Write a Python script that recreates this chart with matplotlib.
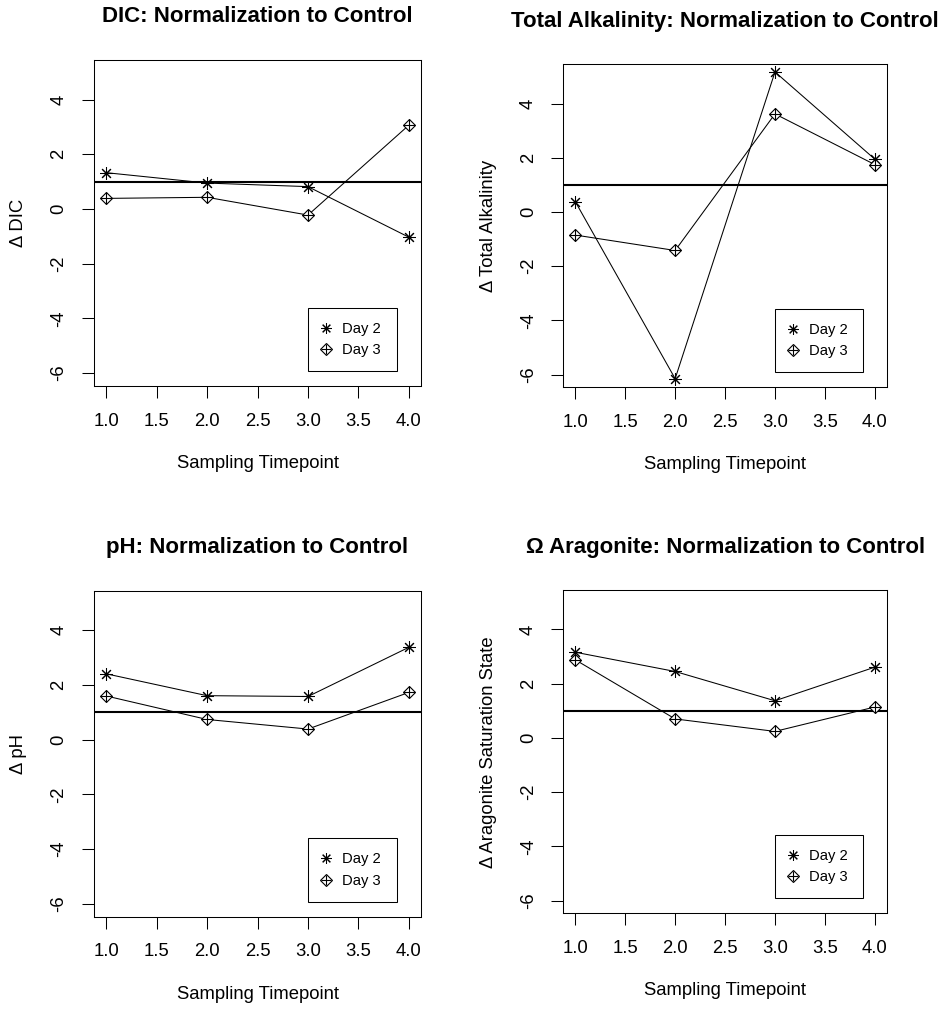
import matplotlib.pyplot as plt
from matplotlib.legend_handler import HandlerTuple

plt.rcParams['font.family'] = ['Liberation Sans', 'DejaVu Sans']

timepoints = [1, 2, 3, 4]

dic_day2 = [1.33, 0.95, 0.82, -1.03]
dic_day3 = [0.39, 0.43, -0.22, 3.07]

ta_day2 = [0.38, -6.15, 5.17, 1.95]
ta_day3 = [-0.85, -1.42, 3.62, 1.75]

ph_day2 = [2.41, 1.61, 1.58, 3.38]
ph_day3 = [1.60, 0.74, 0.39, 1.73]

arag_day2 = [3.16, 2.45, 1.37, 2.61]
arag_day3 = [2.88, 0.70, 0.24, 1.14]

titles = ['DIC: Normalization to Control',
          'Total Alkalinity: Normalization to Control',
          'pH: Normalization to Control',
          '\u03a9 Aragonite: Normalization to Control']
ylabels = ['\u0394 DIC', '\u0394 Total Alkalinity', '\u0394 pH',
           '\u0394 Aragonite Saturation State']
series = [(dic_day2, dic_day3), (ta_day2, ta_day3),
          (ph_day2, ph_day3), (arag_day2, arag_day3)]

xticks = [1.0, 1.5, 2.0, 2.5, 3.0, 3.5, 4.0]
yticks = [-6, -4, -2, 0, 2, 4]
control = 1

# axes rectangles in figure fractions (left, bottom, width, height)
rects = [(0.0997, 0.6178, 0.3468, 0.3228),
         (0.5974, 0.6165, 0.3430, 0.3198),
         (0.0997, 0.0924, 0.3468, 0.3228),
         (0.5974, 0.0957, 0.3430, 0.3200)]

fig = plt.figure(figsize=(9.43, 10.1), dpi=100)

for rect, title, ylab, (d2, d3) in zip(rects, titles, ylabels, series):
    ax = fig.add_axes(rect)
    ax.axhline(control, color='black', lw=1.5, zorder=1)

    ast = (8, 2, 0)
    l2, = ax.plot(timepoints, d2, color='black', lw=0.75, marker=ast,
                  ms=9, mew=0.75, zorder=3)
    ax.plot(timepoints, d3, color='black', lw=0.75, zorder=2)
    dia, = ax.plot(timepoints, d3, ls='none', marker='D', ms=6.6,
                   mfc='white', mec='black', mew=0.8, zorder=3)
    plus, = ax.plot(timepoints, d3, ls='none', marker='+', ms=9.2,
                    mec='black', mew=0.8, zorder=4)

    ax.set_xlim(0.88, 4.12)
    ax.set_ylim(-6.47, 5.45)
    ax.set_xticks(xticks)
    ax.set_xticklabels(['%.1f' % v for v in xticks])
    ax.set_yticks(yticks)
    ax.set_yticklabels([str(v) for v in yticks])
    ax.tick_params(direction='out', length=8.6, width=0.75,
                   labelsize=13.3, pad=10.5, color='black')
    ax.tick_params(axis='y', labelrotation=90)
    for lab in ax.get_yticklabels():
        lab.set_va('center')
    for sp in ax.spines.values():
        sp.set_linewidth(0.75)

    ax.set_title(title, fontsize=16, fontweight='bold', pad=27)
    ax.set_xlabel('Sampling Timepoint', fontsize=13.3)
    ax.xaxis.set_label_coords(0.5, -0.239)
    ax.xaxis.label.set_va('center')
    ax.set_ylabel(ylab, fontsize=13.3)
    ax.yaxis.set_label_coords(-0.2315, 0.5)
    ax.yaxis.label.set_va('center')

    leg = ax.legend([l2, (dia, plus)], ['Day 2', 'Day 3'],
                    handler_map={tuple: HandlerTuple(ndivide=1)},
                    loc='lower left', bbox_to_anchor=(0.653, 0.046, 0.274, 0.2),
                    mode='expand', fontsize=10.6, frameon=True, fancybox=False,
                    framealpha=1, edgecolor='black', borderpad=0.95,
                    handlelength=0.58, handletextpad=0.79, labelspacing=0.5,
                    markerscale=0.85, borderaxespad=0)
    leg.get_frame().set_linewidth(0.75)
    for line in leg.get_lines():
        line.set_linestyle('none')

fig.savefig('out.png', dpi=100)
